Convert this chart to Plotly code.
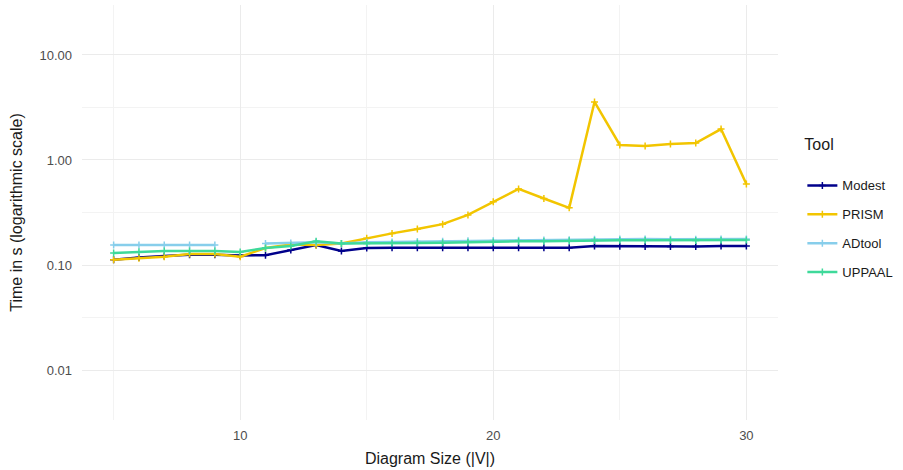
import plotly.graph_objects as go

sizes = list(range(5, 31))

modest = [0.112, 0.118, 0.122, 0.125, 0.125, 0.123, 0.124, 0.139, 0.155, 0.136, 0.145, 0.146, 0.146, 0.146, 0.146,
          0.146, 0.146, 0.146, 0.146, 0.152, 0.151, 0.150, 0.150, 0.150, 0.152, 0.152]
prism = [0.112, 0.116, 0.120, 0.127, 0.127, 0.120, 0.145, 0.157, 0.155, 0.160, 0.180, 0.200, 0.220, 0.245, 0.300,
         0.400, 0.530, 0.430, 0.350, 3.57, 1.39, 1.36, 1.42, 1.45, 1.97, 0.59]
adtool = [0.155, 0.155, 0.155, 0.155, 0.155, None, 0.160, 0.162, 0.165, 0.160, 0.165, 0.166, 0.167, 0.168, 0.170,
          0.171, 0.172, 0.173, 0.174, 0.176, 0.177, 0.177, 0.176, 0.176, 0.177, 0.177]
uppaal = [0.130, 0.134, 0.136, 0.136, 0.136, 0.133, 0.145, 0.152, 0.168, 0.160, 0.160, 0.161, 0.162, 0.163, 0.165,
          0.166, 0.168, 0.168, 0.170, 0.171, 0.172, 0.172, 0.172, 0.171, 0.172, 0.173]

tools = ["Modest", "PRISM", "ADtool", "UPPAAL"]
series = [modest, prism, adtool, uppaal]
colors = ["#00008B", "#F2C500", "#87CEEB", "#3ED99A"]

x_ticks = [10, 20, 30]
y_ticks = [0.01, 0.1, 1, 10]
y_tick_text = ["0.01", "0.10", "1.00", "10.00"]

fig = go.Figure()
for name, vals, col in zip(tools, series, colors):
    fig.add_trace(go.Scatter(
        x=sizes, y=vals, name=name, mode="lines+markers", legendgroup=name,
        line=dict(color=col, width=2.5),
        marker=dict(symbol="cross-thin", size=5, line=dict(color=col, width=1.5)),
        connectgaps=False,
    ))

fig.update_layout(
    width=903, height=470,
    paper_bgcolor="white", plot_bgcolor="white",
    margin=dict(l=82, r=125, t=5, b=50),
    font=dict(family="Liberation Sans, Arial, sans-serif", color="#1a1a1a"),
    legend=dict(
        title=dict(text="Tool<br>", font=dict(size=16, color="#1a1a1a")),
        font=dict(size=13, color="#1a1a1a"),
        x=1.035, xanchor="left", y=0.51, yanchor="middle",
        tracegroupgap=9, itemwidth=30,
    ),
    showlegend=True,
)
fig.update_xaxes(
    range=[3.75, 31.25], tickvals=x_ticks, ticktext=[str(v) for v in x_ticks],
    showgrid=True, gridcolor="#ebebeb", gridwidth=1,
    minor=dict(tickvals=[5, 15, 25], showgrid=True, gridcolor="#f3f3f3", gridwidth=1),
    zeroline=False, showline=False, ticks="", ticklabelstandoff=6,
    tickfont=dict(size=13, color="#4d4d4d"),
    title=dict(text="Diagram Size (|V|)", font=dict(size=16, color="#1a1a1a"), standoff=10),
    automargin=False,
)
fig.update_yaxes(
    type="log", range=[-2.476, 1.476], tickvals=y_ticks, ticktext=y_tick_text,
    showgrid=True, gridcolor="#ebebeb", gridwidth=1,
    minor=dict(tickvals=[10**-1.5, 10**-0.5, 10**0.5], showgrid=True, gridcolor="#f3f3f3", gridwidth=1),
    zeroline=False, showline=False, ticks="", ticklabelstandoff=9,
    tickfont=dict(size=13, color="#4d4d4d"),
    title=dict(text="Time in s (logarithmic scale)", font=dict(size=16, color="#1a1a1a"), standoff=12),
    automargin=False,
)

fig.write_html("out.html", config={"displayModeBar": False},
               post_script="document.body.style.margin='0px';")
